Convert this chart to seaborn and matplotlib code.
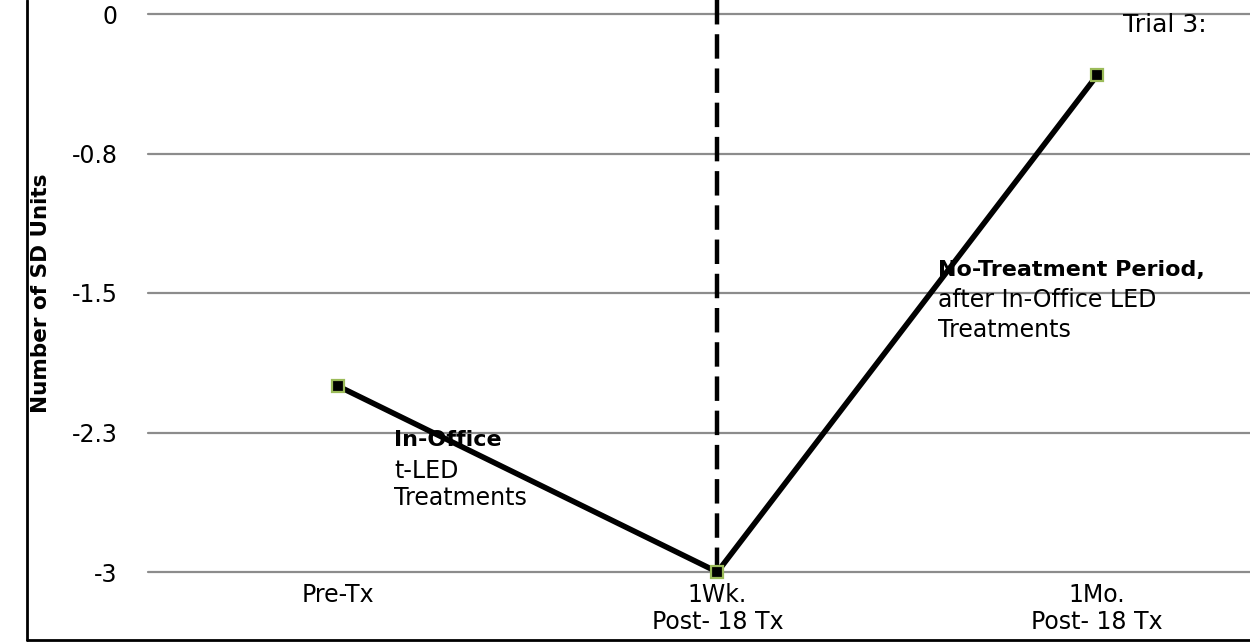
import matplotlib
matplotlib.use("Agg")
import matplotlib.pyplot as plt
from matplotlib.lines import Line2D
import seaborn as sns
import pandas as pd

categories = ["Pre-Tx", "1Wk.\nPost- 18 Tx", "1Mo.\nPost- 18 Tx"]
sd_units = [-2.0, -3.0, -0.33]
ytick_values = [0, -0.75, -1.5, -2.25, -3]
ytick_labels = ["0", "-0.8", "-1.5", "-2.3", "-3"]

sns.set_theme(style="white")
plt.rcParams["font.family"] = ["DejaVu Sans"]
plt.rcParams["text.color"] = "black"
plt.rcParams["xtick.color"] = "black"
plt.rcParams["ytick.color"] = "black"
plt.rcParams["xtick.labelcolor"] = "black"
plt.rcParams["ytick.labelcolor"] = "black"

df = pd.DataFrame({"pos": range(len(categories)), "val": sd_units})

fig = plt.figure(figsize=(12.5, 6.44), dpi=100)
ax = fig.add_axes([148/1250, 72/644, 1102/1250, 558/644])

# gridlines
for v in ytick_values:
    ax.axhline(v, color="#8c8c8c", lw=1.6, zorder=1, clip_on=False)

# dashed divider
ax.axvline(1, ymin=0, ymax=1.03, color="black", lw=3.2, dashes=(5.5, 2.2), zorder=2, clip_on=False)

sns.lineplot(data=df, x="pos", y="val", ax=ax, color="black", lw=4.0,
             marker="s", markersize=8, markerfacecolor="black",
             markeredgecolor="#9BBB59", markeredgewidth=1.6, zorder=3,
             clip_on=False)

ax.set_xlim(-0.5, 2.403)
ax.set_ylim(-3, 0)
ax.set_xticks(range(len(categories)))
ax.set_xticklabels(categories, fontsize=17, linespacing=1.15, color="black")
ax.set_yticks(ytick_values)
ax.set_yticklabels(ytick_labels, fontsize=17, color="black")
ax.tick_params(axis="both", length=0)
ax.tick_params(axis="y", pad=22)
ax.tick_params(axis="x", pad=8)
ax.set_xlabel("")
ax.set_ylabel("")
for s in ax.spines.values():
    s.set_visible(False)
ax.grid(False)

fig.text(41/1250, 1 - 293/644, "Number of SD Units", rotation=90, fontsize=15.5,
         fontweight="bold", ha="center", va="center", color="black")

# annotations
ax.text(2.068, -0.059, "Trial 3:", fontsize=18, ha="left", va="center", color="black")
ax.text(0.148, -2.290, "In-Office", fontsize=16, fontweight="bold", ha="left", va="center", color="black")
ax.text(0.148, -2.457, "t-LED", fontsize=17, ha="left", va="center", color="black")
ax.text(0.148, -2.602, "Treatments", fontsize=17, ha="left", va="center", color="black")
ax.text(1.581, -1.376, "No-Treatment Period,", fontsize=16, fontweight="bold", ha="left", va="center", color="black")
ax.text(1.581, -1.538, "after In-Office LED", fontsize=17, ha="left", va="center", color="black")
ax.text(1.581, -1.699, "Treatments", fontsize=17, ha="left", va="center", color="black")

# outer frame (left and bottom visible)
fig.add_artist(Line2D([27/1250, 27/1250], [4/644, 1.0], color="black", lw=2))
fig.add_artist(Line2D([27/1250, 1.0], [4/644, 4/644], color="black", lw=2))

fig.savefig("out.png", dpi=100)
